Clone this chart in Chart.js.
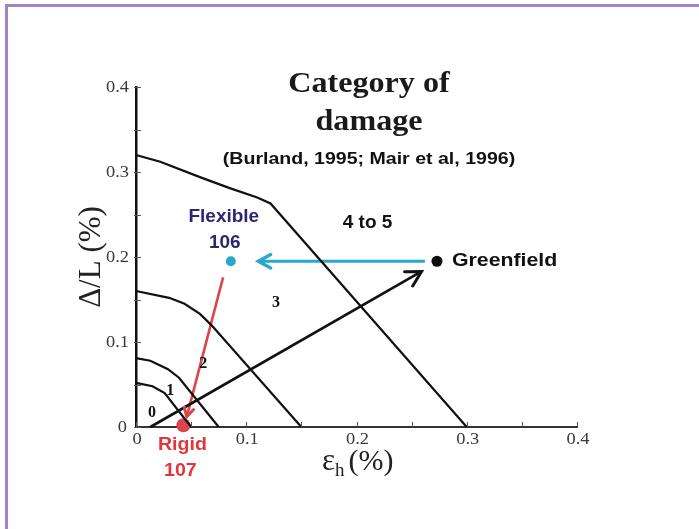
<!DOCTYPE html>
<html>
<head>
<meta charset="utf-8">
<script src="https://cdn.jsdelivr.net/npm/chart.js@4.4.1/dist/chart.umd.min.js"></script>
<style>
  body { margin: 0; background: #fff; }
  #wrap { position: relative; width: 699px; height: 529px; overflow: hidden; }
  #frame { position: absolute; left: 5px; top: 4px; right: -10px; bottom: -10px;
           border-left: 3px solid #a282c8; border-top: 3px solid #a282c8; pointer-events: none; }
</style>
</head>
<body>
<div id="wrap">
  <canvas id="damageChart" width="699" height="529"></canvas>
  <div id="frame"></div>
</div>
<script>
// axis ticks
const tickValues = [0, 0.1, 0.2, 0.3, 0.4];
const tickLabels = ['0', '0.1', '0.2', '0.3', '0.4'];

// category boundaries (eps_h %, delta/L %)
const limit0 = [{x: 0, y: 0.052}, {x: 0.015, y: 0.048}, {x: 0.026, y: 0.04}, {x: 0.05, y: 0}];
const limit1 = [{x: 0, y: 0.081}, {x: 0.013, y: 0.078}, {x: 0.029, y: 0.068}, {x: 0.039, y: 0.058}, {x: 0.075, y: 0}];
const limit2 = [{x: 0, y: 0.16}, {x: 0.03, y: 0.152}, {x: 0.044, y: 0.145}, {x: 0.058, y: 0.133}, {x: 0.069, y: 0.119}, {x: 0.15, y: 0}];
const limit3 = [{x: 0, y: 0.32}, {x: 0.022, y: 0.312}, {x: 0.058, y: 0.294}, {x: 0.085, y: 0.281}, {x: 0.11, y: 0.27}, {x: 0.122, y: 0.263}, {x: 0.3, y: 0}];

// building cases
const caseNames = ['Greenfield', 'Flexible', 'Rigid'];
const caseX = [0.273, 0.086, 0.043];
const caseY = [0.195, 0.195, 0.002];

// arrows
const greenfieldArrow = [{x: 0.013, y: 0}, {x: 0.259, y: 0.183}];
const flexibleArrow = [{x: 0.262, y: 0.195}, {x: 0.111, y: 0.195}];
const rigidArrow = [{x: 0.079, y: 0.176}, {x: 0.046, y: 0.012}];

// damage category labels
const catLabels = ['0', '1', '2', '3', '4 to 5'];
const catX = [0.0145, 0.031, 0.061, 0.127, 0.21];
const catY = [0.0165, 0.042, 0.074, 0.146, 0.24];

function txt(ctx, s, x, y, font, color, align, sx) {
    ctx.save();
    ctx.font = font;
    ctx.fillStyle = color;
    ctx.textAlign = align || 'center';
    ctx.textBaseline = 'middle';
    ctx.translate(x, y);
    ctx.scale(sx || 1, 1);
    ctx.fillText(s, 0, 0);
    ctx.restore();
}

const extras = {
    id: 'extras',
    afterDatasetsDraw(chart) {
        const ctx = chart.ctx;
        const xs = chart.scales.x, ys = chart.scales.y;
        const a = chart.chartArea;

        // inward tick marks
        ctx.save();
        ctx.strokeStyle = '#555';
        ctx.lineWidth = 1;
        xs.ticks.forEach(t => {
            const px = Math.round(xs.getPixelForValue(t.value)) + 0.5;
            ctx.beginPath(); ctx.moveTo(px, a.bottom); ctx.lineTo(px, a.bottom - 5); ctx.stroke();
        });
        ys.ticks.forEach(t => {
            const py = Math.round(ys.getPixelForValue(t.value)) + 0.5;
            ctx.beginPath(); ctx.moveTo(a.left - 2, py); ctx.lineTo(a.left + 5, py); ctx.stroke();
        });
        ctx.restore();

        // tick labels
        tickValues.forEach((v, i) => {
            txt(ctx, tickLabels[i], xs.getPixelForValue(v) + 1, a.bottom + 13, '16px "Liberation Serif"', '#3a3a3a', 'center', 1.15);
            if (v > 0) {
                txt(ctx, tickLabels[i], a.left - 7, ys.getPixelForValue(v) + 1, '16px "Liberation Serif"', '#3a3a3a', 'right', 1.15);
            }
        });
        txt(ctx, '0', a.left - 9, a.bottom + 1, '16px "Liberation Serif"', '#3a3a3a', 'right', 1.15);

        // arrowheads
        chart.data.datasets.forEach((ds, i) => {
            if (!ds.arrowHead) return;
            const pts = chart.getDatasetMeta(i).data;
            const p1 = pts[pts.length - 2], p2 = pts[pts.length - 1];
            const ang = Math.atan2(p2.y - p1.y, p2.x - p1.x);
            const len = ds.arrowHead, spread = 0.5;
            ctx.save();
            ctx.strokeStyle = ds.borderColor;
            ctx.lineWidth = ds.borderWidth + 0.4;
            ctx.lineCap = 'round';
            ctx.lineJoin = 'miter';
            ctx.beginPath();
            ctx.moveTo(p2.x - len * Math.cos(ang - spread), p2.y - len * Math.sin(ang - spread));
            ctx.lineTo(p2.x, p2.y);
            ctx.lineTo(p2.x - len * Math.cos(ang + spread), p2.y - len * Math.sin(ang + spread));
            ctx.stroke();
            ctx.restore();
        });

        // category numbers
        catLabels.forEach((s, i) => {
            const font = i < 4 ? 'bold 16px "Liberation Serif"' : 'bold 19px "Liberation Sans"';
            txt(ctx, s, xs.getPixelForValue(catX[i]), ys.getPixelForValue(catY[i]), font, '#111', 'center', 1);
        });

        // case labels
        const gx = xs.getPixelForValue(caseX[0]), gy = ys.getPixelForValue(caseY[0]);
        txt(ctx, caseNames[0], gx + 15, gy, 'bold 19px "Liberation Sans"', '#111', 'left', 1.12);
        const fx = xs.getPixelForValue(caseX[1]), fy = ys.getPixelForValue(caseY[1]);
        txt(ctx, caseNames[1], fx - 7, fy - 44, 'bold 19px "Liberation Sans"', '#2b2870', 'center', 1.0);
        txt(ctx, '106', fx - 6, fy - 18, 'bold 19px "Liberation Sans"', '#2b2870', 'center', 1.0);
        const rx = xs.getPixelForValue(caseX[2]), ry = ys.getPixelForValue(caseY[2]);
        txt(ctx, caseNames[2], rx - 1, ry + 19, 'bold 19px "Liberation Sans"', '#e3353c', 'center', 1.03);
        txt(ctx, '107', rx - 3, ry + 45, 'bold 19px "Liberation Sans"', '#e3353c', 'center', 1.03);
    },
    afterDraw(chart) {
        const ctx = chart.ctx;
        // title block
        txt(ctx, 'Category of', 369, 84, 'bold 30px "Liberation Serif"', '#1a1a1a', 'center', 1.07);
        txt(ctx, 'damage', 369, 122, 'bold 30px "Liberation Serif"', '#1a1a1a', 'center', 1.07);
        txt(ctx, '(Burland, 1995; Mair et al, 1996)', 369, 159, 'bold 17px "Liberation Sans"', '#111', 'center', 1.15);

        // y title
        ctx.save();
        ctx.translate(92, 257);
        ctx.rotate(-Math.PI / 2);
        txt(ctx, '\u0394/L (%)', 0, 0, '31px "Liberation Serif"', '#222', 'center', 1);
        ctx.restore();

        // x title with subscript
        ctx.save();
        ctx.fillStyle = '#222';
        ctx.textBaseline = 'alphabetic';
        ctx.textAlign = 'left';
        ctx.font = '31px "Liberation Serif"';
        let x = 322;
        ctx.fillText('\u03b5', x, 470);
        x += ctx.measureText('\u03b5').width;
        ctx.font = '19px "Liberation Serif"';
        ctx.fillText('h', x, 476);
        x += ctx.measureText('h').width + 4;
        ctx.font = '30px "Liberation Serif"';
        ctx.fillText('(%)', x, 470);
        ctx.restore();
    }
};

const lineStyle = {showLine: true, borderColor: '#111', borderWidth: 2.2, pointRadius: 0, fill: false, clip: false, tension: 0};

new Chart(document.getElementById('damageChart').getContext('2d'), {
    type: 'scatter',
    data: {
        datasets: [
            Object.assign({label: 'limit 0', data: limit0}, lineStyle),
            Object.assign({label: 'limit 1', data: limit1}, lineStyle),
            Object.assign({label: 'limit 2', data: limit2}, lineStyle),
            Object.assign({label: 'limit 3', data: limit3}, lineStyle),
            Object.assign({}, lineStyle, {label: 'greenfield arrow', data: greenfieldArrow, borderWidth: 2.6, arrowHead: 17}),
            Object.assign({}, lineStyle, {label: 'flexible arrow', data: flexibleArrow, borderColor: '#2aa7c9', borderWidth: 3, arrowHead: 14}),
            Object.assign({}, lineStyle, {label: 'rigid arrow', data: rigidArrow, borderColor: '#d9464b', borderWidth: 2.6, arrowHead: 10}),
            {
                label: 'cases',
                data: caseX.map((x, i) => ({x: x, y: caseY[i]})),
                pointRadius: [5.5, 5, 7],
                pointBackgroundColor: ['#0d0d0d', '#2aa7c9', '#d9464b'],
                pointBorderWidth: 0,
                showLine: false,
                clip: false
            }
        ]
    },
    options: {
        responsive: false,
        animation: false,
        devicePixelRatio: 1,
        layout: {padding: {left: 0, right: 122, top: 87, bottom: 0}},
        plugins: {legend: {display: false}, tooltip: {enabled: false}},
        scales: {
            x: {
                type: 'linear', min: 0, max: 0.4,
                ticks: {stepSize: 0.05, display: false},
                grid: {display: false},
                border: {display: true, color: '#333', width: 2},
                afterFit: s => { s.height = 102; }
            },
            y: {
                type: 'linear', min: 0, max: 0.4,
                ticks: {stepSize: 0.05, display: false},
                grid: {display: false},
                border: {display: true, color: '#111', width: 2.5},
                afterFit: s => { s.width = 136; }
            }
        }
    },
    plugins: [extras]
});
</script>
</body>
</html>
